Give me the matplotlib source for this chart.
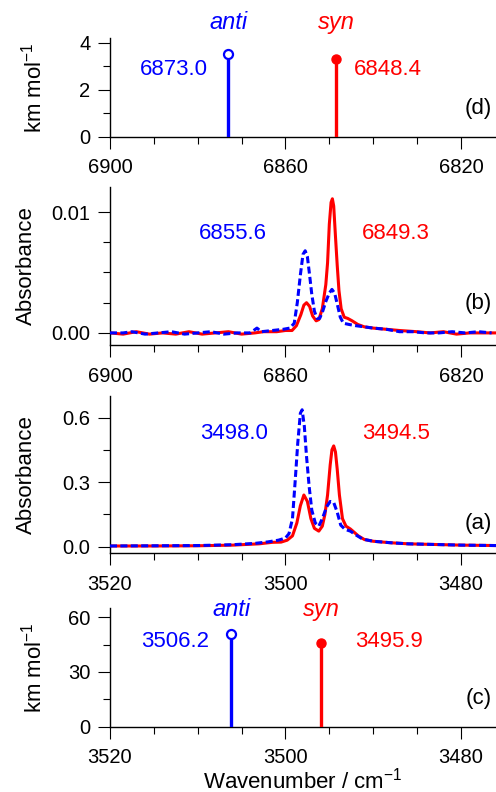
import matplotlib
matplotlib.use("Agg")
import matplotlib.pyplot as plt
from matplotlib.ticker import MultipleLocator, FixedLocator, FormatStrFormatter

plt.rcParams['font.family'] = ['Liberation Sans', 'DejaVu Sans']
plt.rcParams['mathtext.fontset'] = 'custom'
plt.rcParams['mathtext.rm'] = 'Liberation Sans'
plt.rcParams['mathtext.it'] = 'Liberation Sans:italic'

BLUE = '#0000ff'
RED = '#ff0000'

# ---------------- data ----------------
# tick labels
overtone_ticks = [6900, 6860, 6820]
fundamental_ticks = [3520, 3500, 3480]

# (d) calculated overtone stick spectrum
d_conf = ['anti', 'syn']
d_pos = [6873.0, 6848.4]
d_int = [3.5, 3.3]

# (c) calculated fundamental stick spectrum
c_conf = ['anti', 'syn']
c_pos = [3506.2, 3495.9]
c_int = [51, 46]

# (b) observed overtone spectra
b_red_x = [6900, 6897, 6894, 6891, 6888, 6885, 6882, 6879, 6876, 6873, 6870, 6867, 6865, 6862,
           6860, 6858.5, 6857.5, 6856.5, 6855.8, 6855.2, 6854.5, 6853.8, 6853.0, 6852.4, 6851.6,
           6850.8, 6850.4, 6850.0, 6849.6, 6849.3, 6849.0, 6848.6, 6848.2, 6847.8, 6847.3, 6846.6,
           6845.8, 6844.8, 6843.5, 6842, 6840, 6837, 6834, 6830, 6827, 6824, 6821, 6818, 6815, 6812]
b_red_y = [0.0000, -0.0001, 0.0001, -0.0001, 0.0000, -0.0001, 0.0001, -0.0001, 0.0000, 0.0001,
           -0.0001, 0.0000, 0.0001, 0.0001, 0.0002, 0.0002, 0.0006, 0.0015, 0.0023, 0.0025, 0.0022,
           0.0014, 0.0010, 0.0011, 0.0020, 0.0040, 0.0058, 0.0090, 0.0108, 0.0111, 0.0105, 0.0080,
           0.0056, 0.0035, 0.0020, 0.0013, 0.0012, 0.0010, 0.0007, 0.0005, 0.0004, 0.0003, 0.0002,
           0.0001, 0.0000, 0.0001, -0.0001, 0.0000, 0.0000, 0.0000]
b_blue_x = [6900, 6897, 6895, 6892, 6889, 6886, 6883, 6880, 6877, 6874, 6871, 6868, 6866.5, 6865.5,
            6863, 6860.5, 6859, 6858, 6857.3, 6856.6, 6856.0, 6855.5, 6855.0, 6854.5, 6854.0, 6853.4,
            6852.8, 6852.2, 6851.5, 6850.8, 6850.0, 6849.4, 6848.8, 6848.2, 6847.5, 6846.8, 6845.5,
            6844, 6842, 6840, 6837, 6834, 6831, 6828, 6825, 6822, 6819, 6816, 6813]
b_blue_y = [0.0000, 0.0000, 0.0001, -0.0001, 0.0000, 0.0001, -0.0001, 0.0000, 0.0001, -0.0001,
            0.0000, 0.0000, 0.0004, 0.0001, 0.0002, 0.0003, 0.0004, 0.0008, 0.0025, 0.0048, 0.0065,
            0.0068, 0.0063, 0.0048, 0.0032, 0.0018, 0.0012, 0.0012, 0.0018, 0.0026, 0.0033, 0.0036,
            0.0033, 0.0024, 0.0013, 0.0008, 0.0007, 0.0006, 0.0005, 0.0004, 0.0003, 0.0001, 0.0001,
            0.0000, 0.0000, 0.0001, 0.0000, 0.0001, 0.0000]

# (a) observed fundamental spectra
a_red_x = [3520, 3515, 3510, 3506, 3503, 3501.5, 3500.5, 3499.8, 3499.2, 3498.7, 3498.3, 3497.9,
           3497.5, 3497.1, 3496.7, 3496.2, 3495.8, 3495.5, 3495.2, 3494.9, 3494.7, 3494.5, 3494.3,
           3494.1, 3493.85, 3493.5, 3493.1, 3492.6, 3492.2, 3491.7, 3491.0, 3490, 3488, 3486, 3483,
           3480, 3476]
a_red_y = [0.003, 0.003, 0.004, 0.007, 0.013, 0.020, 0.021, 0.030, 0.050, 0.110, 0.190, 0.240,
           0.210, 0.130, 0.085, 0.072, 0.095, 0.150, 0.240, 0.380, 0.450, 0.468, 0.440, 0.360,
           0.240, 0.130, 0.095, 0.082, 0.068, 0.050, 0.033, 0.025, 0.018, 0.013, 0.010, 0.007, 0.005]
a_blue_x = [3520, 3515, 3510, 3506, 3503.5, 3502, 3500.8, 3500.0, 3499.6, 3499.2, 3498.9, 3498.6,
            3498.3, 3498.1, 3497.85, 3497.6, 3497.3, 3497.0, 3496.6, 3496.2, 3495.8, 3495.3, 3494.9,
            3494.5, 3494.1, 3493.7, 3493.2, 3492.6, 3492.0, 3491.2, 3490, 3488, 3486, 3483, 3480, 3476]
a_blue_y = [0.003, 0.004, 0.005, 0.009, 0.015, 0.022, 0.030, 0.040, 0.060, 0.130, 0.300, 0.480,
            0.620, 0.636, 0.560, 0.420, 0.280, 0.170, 0.110, 0.095, 0.130, 0.185, 0.210, 0.205,
            0.160, 0.100, 0.080, 0.072, 0.055, 0.035, 0.025, 0.018, 0.013, 0.010, 0.007, 0.005]

# peak labels
b_labels = ['6855.6', '6849.3']
a_labels = ['3498.0', '3494.5']

# ---------------- figure ----------------
W, H = 496, 792
fig = plt.figure(figsize=(W / 100, H / 100), dpi=100)

def axbox(top, bottom):
    left = 110
    return [left / W, 1 - bottom / H, (W - left) / W, (bottom - top) / H]

ax_d = fig.add_axes(axbox(38, 136.7))
ax_b = fig.add_axes(axbox(186.7, 345))
ax_a = fig.add_axes(axbox(396, 553.3))
ax_c = fig.add_axes(axbox(608, 726.7))

TICK_FS = 14.5
ANN_FS = 16

for ax in (ax_d, ax_b, ax_a, ax_c):
    for s in ('top', 'right'):
        ax.spines[s].set_visible(False)
    for s in ('left', 'bottom'):
        ax.spines[s].set_linewidth(1.0)
    ax.tick_params(which='major', direction='out', length=8.6, width=0.8,
                   labelsize=TICK_FS)
    ax.tick_params(which='minor', direction='out', length=4.7, width=0.8)
    ax.tick_params(axis='x', which='major', pad=7)
    ax.tick_params(axis='y', which='major', pad=5.5)

# x axes
for ax in (ax_d, ax_b):
    ax.set_xlim(6900, 6812)
    ax.xaxis.set_major_locator(FixedLocator(overtone_ticks))
    ax.xaxis.set_minor_locator(MultipleLocator(10))
for ax in (ax_a, ax_c):
    ax.set_xlim(3520, 3476)
    ax.xaxis.set_major_locator(FixedLocator(fundamental_ticks))
    ax.xaxis.set_minor_locator(MultipleLocator(5))

# ---- (d) ----
ax_d.set_ylim(0, 4.2)
ax_d.yaxis.set_major_locator(MultipleLocator(2))
ax_d.yaxis.set_minor_locator(MultipleLocator(1))
ax_d.vlines(d_pos[0], 0, d_int[0], color=BLUE, lw=2.4, zorder=3)
ax_d.vlines(d_pos[1], 0, d_int[1], color=RED, lw=2.4, zorder=3)
ax_d.plot(d_pos[0], d_int[0], 'o', ms=6.5, mfc='white', mec=BLUE, mew=1.6, zorder=4, clip_on=False)
ax_d.plot(d_pos[1], d_int[1], 'o', ms=6.5, mfc=RED, mec=RED, zorder=4, clip_on=False)
ax_d.text(6885.4, 2.84, '%.1f' % d_pos[0], color=BLUE, fontsize=ANN_FS, ha='center', va='center')
ax_d.text(6836.7, 2.84, '%.1f' % d_pos[1], color=RED, fontsize=ANN_FS, ha='center', va='center')
ax_d.text(d_pos[0], 4.84, d_conf[0], color=BLUE, fontsize=17, style='italic', ha='center', va='center')
ax_d.text(d_pos[1], 4.84, d_conf[1], color=RED, fontsize=17, style='italic', ha='center', va='center')
ax_d.text(0.99, 0.29, '(d)', transform=ax_d.transAxes, fontsize=ANN_FS, ha='right', va='center')
ax_d.set_ylabel('km mol$^{-1}$', fontsize=16)
ax_d.yaxis.set_label_coords(-0.165, 0.5)

# ---- (b) ----
ax_b.plot(b_red_x, b_red_y, color=RED, lw=2.2, zorder=2)
ax_b.plot(b_blue_x, b_blue_y, color=BLUE, lw=2.2, dashes=(2.3, 1.1), zorder=3)
ax_b.set_ylim(-0.001, 0.0121)
ax_b.yaxis.set_major_locator(MultipleLocator(0.01))
ax_b.yaxis.set_minor_locator(MultipleLocator(0.0025))
ax_b.yaxis.set_major_formatter(FormatStrFormatter('%.2f'))
ax_b.text(6871.9, 0.00821, b_labels[0], color=BLUE, fontsize=ANN_FS, ha='center', va='center')
ax_b.text(6834.9, 0.00821, b_labels[1], color=RED, fontsize=ANN_FS, ha='center', va='center')
ax_b.text(0.99, 0.263, '(b)', transform=ax_b.transAxes, fontsize=ANN_FS, ha='right', va='center')
ax_b.set_ylabel('Absorbance', fontsize=16)
ax_b.yaxis.set_label_coords(-0.19, 0.5)

# ---- (a) ----
ax_a.plot(a_red_x, a_red_y, color=RED, lw=2.2, zorder=2)
ax_a.plot(a_blue_x, a_blue_y, color=BLUE, lw=2.2, dashes=(2.3, 1.1), zorder=3)
ax_a.set_ylim(-0.031, 0.7)
ax_a.yaxis.set_major_locator(MultipleLocator(0.3))
ax_a.yaxis.set_minor_locator(MultipleLocator(0.15))
ax_a.yaxis.set_major_formatter(FormatStrFormatter('%.1f'))
ax_a.text(3505.9, 0.526, a_labels[0], color=BLUE, fontsize=ANN_FS, ha='center', va='center')
ax_a.text(3487.4, 0.526, a_labels[1], color=RED, fontsize=ANN_FS, ha='center', va='center')
ax_a.text(0.99, 0.19, '(a)', transform=ax_a.transAxes, fontsize=ANN_FS, ha='right', va='center')
ax_a.set_ylabel('Absorbance', fontsize=16)
ax_a.yaxis.set_label_coords(-0.19, 0.5)

# ---- (c) ----
ax_c.set_ylim(0, 65)
ax_c.yaxis.set_major_locator(MultipleLocator(30))
ax_c.yaxis.set_minor_locator(MultipleLocator(15))
ax_c.vlines(c_pos[0], 0, c_int[0], color=BLUE, lw=2.4, zorder=3)
ax_c.vlines(c_pos[1], 0, c_int[1], color=RED, lw=2.4, zorder=3)
ax_c.plot(c_pos[0], c_int[0], 'o', ms=6.5, mfc='white', mec=BLUE, mew=1.6, zorder=4, clip_on=False)
ax_c.plot(c_pos[1], c_int[1], 'o', ms=6.5, mfc=RED, mec=RED, zorder=4, clip_on=False)
ax_c.text(3512.6, 46.6, '%.1f' % c_pos[0], color=BLUE, fontsize=ANN_FS, ha='center', va='center')
ax_c.text(3488.2, 46.6, '%.1f' % c_pos[1], color=RED, fontsize=ANN_FS, ha='center', va='center')
ax_c.text(c_pos[0], 64, c_conf[0], color=BLUE, fontsize=17, style='italic', ha='center', va='center')
ax_c.text(c_pos[1], 64, c_conf[1], color=RED, fontsize=17, style='italic', ha='center', va='center')
ax_c.text(0.99, 0.24, '(c)', transform=ax_c.transAxes, fontsize=ANN_FS, ha='right', va='center')
ax_c.set_ylabel('km mol$^{-1}$', fontsize=16)
ax_c.yaxis.set_label_coords(-0.165, 0.5)
ax_c.set_xlabel('Wavenumber / cm$^{-1}$', fontsize=16, labelpad=0)

fig.savefig('out.png', dpi=100)
